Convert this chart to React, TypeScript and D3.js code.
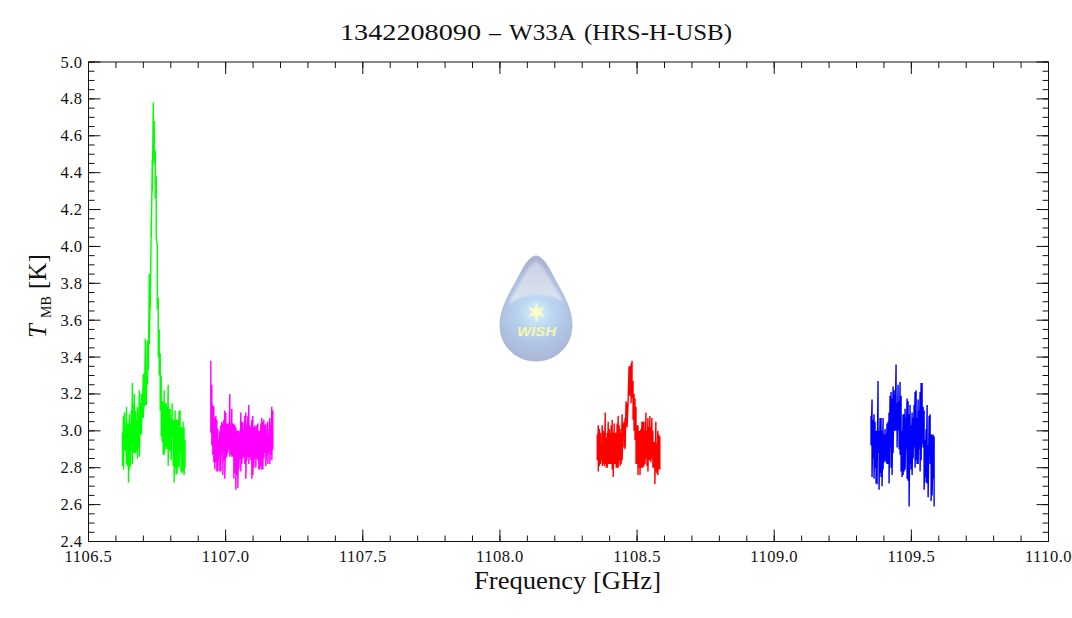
import React from "react";
import * as d3 from "d3";

const titleId = "1342208090";
const titleDash = "\u2013";
const titleSource = "W33A";
const titleBand = "(HRS-H-USB)";
const xLabel = "Frequency [GHz]";
const xDomain: [number, number] = [1106.5, 1110.0];
const yDomain: [number, number] = [2.4, 5.0];
const xMajor = [1106.5, 1107.0, 1107.5, 1108.0, 1108.5, 1109.0, 1109.5, 1110.0];
const yMajor = [2.4, 2.6, 2.8, 3.0, 3.2, 3.4, 3.6, 3.8, 4.0, 4.2, 4.4, 4.6, 4.8, 5.0];

const greenRange = [1106.624, 1106.852];
const greenHigh = [2.99,3.08,3.10,3.00,3.13,3.04,3.04,3.09,3.04,3.11,3.26,3.15,3.20,3.11,3.06,3.13,3.08,3.22,3.15,3.20,3.18,3.31,3.28,3.50,3.29,3.49,3.49,3.85,3.77,4.15,4.47,4.78,4.68,4.52,4.38,4.01,3.72,3.55,3.42,3.30,3.16,3.16,3.22,3.15,3.15,3.13,3.25,3.12,3.12,3.06,3.15,3.06,3.06,3.11,3.06,3.06,3.06,3.11,3.11,3.02,3.02,3.05,3.02,2.95];
const greenLow = [2.81,2.79,2.90,2.89,2.82,2.81,2.72,2.79,2.81,2.93,2.82,2.88,2.88,2.88,2.89,2.85,2.91,2.86,2.98,2.98,3.13,3.07,3.13,3.14,3.14,3.25,3.33,3.47,3.67,4.05,4.30,4.47,4.45,4.26,4.05,3.66,3.40,3.30,3.11,2.97,2.94,2.87,2.87,2.90,2.91,2.90,2.81,2.90,2.89,2.84,2.97,2.81,2.72,2.80,2.76,2.77,2.81,2.80,2.88,2.78,2.77,2.78,2.76,2.80];

const magentaRange = [1106.946, 1107.172];
const magentaHigh = [3.38,3.25,3.14,3.13,3.07,3.08,3.06,3.01,2.95,3.00,3.03,3.05,3.04,3.06,3.11,3.10,3.04,3.04,3.04,3.20,3.03,3.12,3.04,3.04,3.03,3.02,3.00,3.00,3.00,2.98,3.10,3.05,3.05,3.01,3.08,3.10,3.03,3.08,3.14,3.03,3.02,3.06,3.08,3.02,3.03,3.02,3.03,3.04,3.00,3.00,3.04,3.07,3.05,3.06,3.03,3.04,2.93,3.05,2.98,3.07,3.03,3.13,3.11];
const magentaLow = [2.99,2.92,2.87,2.83,2.79,2.83,2.78,2.78,2.88,2.78,2.78,2.88,2.76,2.84,2.74,2.85,2.86,2.88,2.90,2.86,2.87,2.86,2.86,2.74,2.77,2.68,2.76,2.69,2.79,2.85,2.78,2.82,2.85,2.86,2.82,2.74,2.84,2.86,2.82,2.86,2.84,2.74,2.76,2.80,2.85,2.80,2.85,2.84,2.79,2.79,2.81,2.79,2.79,2.85,2.88,2.81,2.94,2.82,2.88,2.82,2.87,2.84,2.90];

const redRange = [1108.355, 1108.583];
const redHigh = [2.98,3.03,3.01,2.99,2.93,3.03,3.00,2.99,3.10,2.96,2.99,3.05,3.01,2.99,3.03,3.06,2.99,3.04,2.99,2.99,3.04,3.08,3.03,3.01,2.99,3.09,3.04,3.05,3.07,3.16,3.15,3.15,3.35,3.35,3.365,3.38,3.27,3.20,3.175,3.13,3.03,3.03,3.00,3.00,3.01,3.05,3.05,3.05,3.00,3.10,3.00,3.07,3.02,3.08,3.02,3.07,3.00,2.94,2.94,3.05,2.93,3.00,2.98,2.97];
const redLow = [2.84,2.78,2.81,2.82,2.84,2.81,2.82,2.81,2.82,2.80,2.80,2.82,2.82,2.82,2.82,2.79,2.75,2.82,2.82,2.80,2.80,2.80,2.84,2.81,2.82,2.84,2.95,2.91,2.90,3.03,3.02,3.15,3.19,3.19,3.15,3.18,3.06,3.00,2.95,2.82,2.82,2.76,2.80,2.76,2.80,2.80,2.80,2.81,2.82,2.85,2.81,2.78,2.84,2.84,2.83,2.85,2.80,2.80,2.71,2.78,2.77,2.76,2.79,2.79];

const blueRange = [1109.353, 1109.583];
const blueHigh = [3.08,3.17,3.06,3.09,3.05,3.00,3.00,3.27,3.00,3.07,3.07,3.00,3.07,2.98,3.01,2.98,3.04,3.05,3.10,3.19,3.21,3.175,3.24,3.22,3.20,3.36,3.15,3.25,3.16,3.265,3.19,3.00,3.09,3.09,3.12,3.07,3.175,3.16,3.09,3.14,3.03,3.10,3.07,3.14,3.21,3.22,3.07,3.17,3.11,3.21,3.26,3.26,3.13,3.11,2.95,3.01,3.14,2.92,3.08,3.09,2.98,2.98,2.98,2.97];
const blueLow = [2.92,2.75,2.85,2.74,2.80,2.715,2.71,2.88,2.68,2.77,2.75,2.70,2.79,2.83,2.84,2.83,2.82,2.82,2.715,2.91,2.80,2.76,2.88,3.00,3.00,3.00,2.91,3.00,2.90,2.87,2.78,2.75,2.76,2.78,2.79,2.90,2.74,2.73,2.59,2.82,2.79,2.76,2.85,2.91,2.80,2.84,2.82,2.82,2.90,2.78,2.84,2.93,2.91,2.68,2.75,2.72,2.715,2.64,2.86,2.82,2.62,2.65,2.74,2.59];

const spectra = [
  { color: "#00ff00", range: greenRange, high: greenHigh, low: greenLow },
  { color: "#ff00ff", range: magentaRange, high: magentaHigh, low: magentaLow },
  { color: "#ff0000", range: redRange, high: redHigh, low: redLow },
  { color: "#0000ff", range: blueRange, high: blueHigh, low: blueLow },
];

const W = 1072, H = 618;
const L = 88.5, R = 1048.5, T = 62, B = 541.5;
const x = d3.scaleLinear().domain(xDomain).range([L, R]);
const y = d3.scaleLinear().domain(yDomain).range([B, T]);
const xMinor = d3.range(0, 36).map((i) => 1106.5 + i * 0.1);
const yMinor = d3.range(0, 53).map((i) => 2.4 + i * 0.05);
const FONT = "'Liberation Serif', serif";
const INK = "#111";

function zigzag(s: (typeof spectra)[number]): string {
  const fx = d3.scaleLinear().domain([0, s.high.length - 1]).range(s.range);
  const pts: [number, number][] = [];
  s.high.forEach((h, i) => {
    pts.push([fx(i), h]);
    pts.push([fx(i), s.low[i]]);
  });
  return d3.line().x((d) => x(d[0])).y((d) => y(d[1]))(pts) as string;
}

function Logo() {
  const drop = "M536,256 C541,256 546,262 552,274 C562,293 572,308 572,325 C572,346 556,361 536,361 C516,361 500,346 500,325 C500,308 510,293 520,274 C526,262 531,256 536,256 Z";
  const cx = 536.5, cy = 312;
  const star = d3.range(12).map((i) => {
    const r = i % 2 === 0 ? 10 : 3;
    const a = (i * Math.PI) / 6;
    return `${cx + r * Math.sin(a)},${cy - r * Math.cos(a)}`;
  }).join(" ");
  return (
    <g>
      <defs>
        <radialGradient id="glow" cx="536.5" cy="313" r="50" gradientUnits="userSpaceOnUse">
          <stop offset="0" stopColor="#dcf0fb" />
          <stop offset="0.3" stopColor="#bcd8f2" />
          <stop offset="0.65" stopColor="#afc4e4" />
          <stop offset="1" stopColor="#acb4d4" />
        </radialGradient>
        <linearGradient id="cap" x1="0" y1="0" x2="0" y2="1">
          <stop offset="0" stopColor="#c8d0e4" />
          <stop offset="1" stopColor="#e0e6f2" />
        </linearGradient>
        <filter id="soft" x="-30%" y="-30%" width="160%" height="160%"><feGaussianBlur stdDeviation="0.8" /></filter>
        <filter id="soft2" x="-60%" y="-60%" width="220%" height="220%"><feGaussianBlur stdDeviation="1.2" /></filter>
      </defs>
      <path d={drop} fill="url(#glow)" stroke="#b0b8d8" strokeWidth="1" />
      <path d="M536,262 C540,262 545,270 550,279 C555,288 561,296 563.5,303 C553,292 519,292 508.5,306 C511,298 517,288 522,279 C527,270 532,262 536,262 Z" fill="url(#cap)" filter="url(#soft)" />
      <polygon points={star} fill="#fbfbc0" filter="url(#soft2)" />
      <polygon points={star} fill="#fdfdc8" />
      <text x={517} y={336} textLength={39} lengthAdjust="spacingAndGlyphs" fontFamily="'Liberation Sans', sans-serif" fontStyle="italic" fontWeight="bold" fontSize={13} fill="#f6f6a8">WISH</text>
    </g>
  );
}

export default function App() {
  return (
    <svg width={W} height={H} style={{ position: "absolute", left: 0, top: 0, background: "#fff" }}>
      <text y={40} fontFamily={FONT} fontSize={24} fill={INK}>
        <tspan x={340} textLength={141} lengthAdjust="spacingAndGlyphs">{titleId}</tspan>
        <tspan x={489} textLength={12} lengthAdjust="spacingAndGlyphs">{titleDash}</tspan>
        <tspan x={509} textLength={67} lengthAdjust="spacingAndGlyphs">{titleSource}</tspan>
        <tspan x={584} textLength={148} lengthAdjust="spacingAndGlyphs">{titleBand}</tspan>
      </text>
      <Logo />
      {spectra.map((s) => (
        <path key={s.color} d={zigzag(s)} fill="none" stroke={s.color} strokeWidth={1.4} />
      ))}
      <rect x={L} y={T} width={R - L} height={B - T} fill="none" stroke={INK} strokeWidth={1} />
      {xMinor.map((v) => (
        <g key={v} stroke={INK}>
          <line x1={x(v)} x2={x(v)} y1={B} y2={B - 6} />
          <line x1={x(v)} x2={x(v)} y1={T} y2={T + 6} />
        </g>
      ))}
      {yMinor.map((v) => (
        <g key={v} stroke={INK}>
          <line x1={L} x2={L + 6} y1={y(v)} y2={y(v)} />
          <line x1={R} x2={R - 6} y1={y(v)} y2={y(v)} />
        </g>
      ))}
      {xMajor.map((v) => (
        <g key={v}>
          <g stroke={INK}>
            <line x1={x(v)} x2={x(v)} y1={B} y2={B - 12} />
            <line x1={x(v)} x2={x(v)} y1={T} y2={T + 12} />
          </g>
          <text x={x(v)} y={B + 20.5} textAnchor="middle" fontFamily={FONT} fontSize={16.5} letterSpacing={0.5} fill={INK}>{v.toFixed(1)}</text>
        </g>
      ))}
      {yMajor.map((v) => (
        <g key={v}>
          <g stroke={INK}>
            <line x1={L} x2={L + 12} y1={y(v)} y2={y(v)} />
            <line x1={R} x2={R - 12} y1={y(v)} y2={y(v)} />
          </g>
          <text x={L - 6} y={y(v) + 5.5} textAnchor="end" fontFamily={FONT} fontSize={16.5} letterSpacing={0.5} fill={INK}>{v.toFixed(1)}</text>
        </g>
      ))}
      <text x={474} y={589} textLength={187} lengthAdjust="spacingAndGlyphs" fontFamily={FONT} fontSize={25} fill={INK}>{xLabel}</text>
      <text transform="translate(46,338) rotate(-90)" fontFamily={FONT} fontStyle="italic" fontSize={25} fill={INK}>T</text>
      <text transform="translate(51,318) rotate(-90)" fontFamily={FONT} fontSize={14} fill={INK}>MB</text>
      <text transform="translate(46,289) rotate(-90)" fontFamily={FONT} fontSize={25} fill={INK}>[K]</text>
    </svg>
  );
}
